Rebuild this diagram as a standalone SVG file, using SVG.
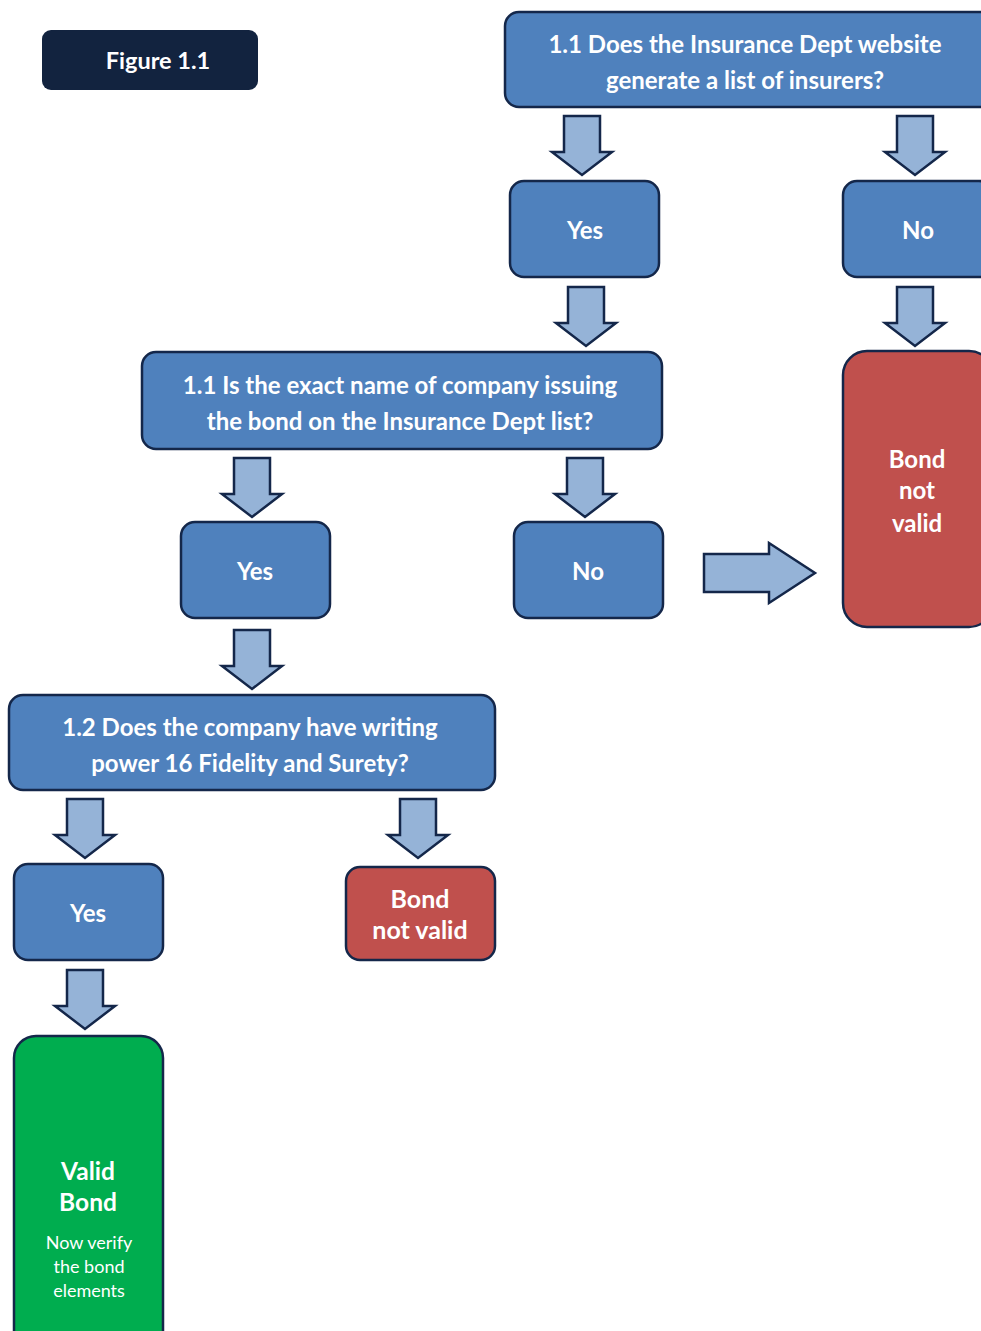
<svg xmlns="http://www.w3.org/2000/svg" width="981" height="1331" viewBox="0 0 981 1331">
<style>
.box{stroke:#14274a;stroke-width:2.5}
.blue{fill:#4f81bd}
.red{fill:#c0504d}
.green{fill:#00ad4f}
.arr{fill:#95b3d7;stroke:#14274a;stroke-width:2.5;stroke-linejoin:miter}
.t{font-family:Lato,"Liberation Sans",sans-serif;font-weight:bold;fill:#fff;text-anchor:middle;font-size:24px}
.s{font-family:Lato,"Liberation Sans",sans-serif;fill:#fff;text-anchor:middle;font-size:18px}
</style>
<defs>
<path id="down" d="M-18,0 H18 V36 H30 L0,59 L-30,36 H-18 Z"/>
</defs>
<g id="title">
<rect x="42" y="30" width="216" height="60" rx="9" fill="#12233f"/>
<text class="t" x="158" y="69" style="font-size:23.5px">Figure 1.1</text>
</g>
<g id="q1">
<rect class="box blue" x="505" y="12" width="500" height="95" rx="14"/>
<text class="t" x="745" y="53">1.1 Does the Insurance Dept website</text>
<text class="t" x="745" y="89">generate a list of insurers?</text>
</g>
<g id="yes1">
<rect class="box blue" x="510" y="181" width="149" height="96" rx="14"/>
<text class="t" x="585" y="239">Yes</text>
</g>
<g id="no1">
<rect class="box blue" x="843" y="181" width="150" height="96" rx="14"/>
<text class="t" x="918" y="239">No</text>
</g>
<g id="invalid1">
<rect class="box red" x="843" y="351" width="150" height="276" rx="24"/>
<text class="t" x="917" y="468">Bond</text>
<text class="t" x="917" y="499">not</text>
<text class="t" x="917" y="532">valid</text>
</g>
<g id="q2">
<rect class="box blue" x="142" y="352" width="520" height="97" rx="14"/>
<text class="t" x="400" y="394">1.1 Is the exact name of company issuing</text>
<text class="t" x="400" y="430">the bond on the Insurance Dept list?</text>
</g>
<g id="yes2">
<rect class="box blue" x="181" y="522" width="149" height="96" rx="14"/>
<text class="t" x="255" y="580">Yes</text>
</g>
<g id="no2">
<rect class="box blue" x="514" y="522" width="149" height="96" rx="14"/>
<text class="t" x="588" y="580">No</text>
</g>
<g id="q3">
<rect class="box blue" x="9" y="695" width="486" height="95" rx="14"/>
<text class="t" x="250" y="736">1.2 Does the company have writing</text>
<text class="t" x="250" y="772">power 16 Fidelity and Surety?</text>
</g>
<g id="yes3">
<rect class="box blue" x="14" y="864" width="149" height="96" rx="14"/>
<text class="t" x="88" y="922">Yes</text>
</g>
<g id="invalid2">
<rect class="box red" x="346" y="867" width="149" height="93" rx="14"/>
<text class="t" x="420" y="908" style="font-size:25px">Bond</text>
<text class="t" x="420" y="939" style="font-size:25px">not valid</text>
</g>
<g id="valid">
<rect class="box green" x="14" y="1036" width="149" height="320" rx="22"/>
<text class="t" x="88" y="1180" style="font-size:24.5px">Valid</text>
<text class="t" x="88" y="1211" style="font-size:24.5px">Bond</text>
<text class="s" x="89" y="1249">Now verify</text>
<text class="s" x="89" y="1273">the bond</text>
<text class="s" x="89" y="1297">elements</text>
</g>
<g id="connectors">
<use href="#down" class="arr" x="582" y="116"/>
<use href="#down" class="arr" x="915" y="116"/>
<use href="#down" class="arr" x="586" y="287"/>
<use href="#down" class="arr" x="915" y="287"/>
<use href="#down" class="arr" x="252" y="458"/>
<use href="#down" class="arr" x="585" y="458"/>
<use href="#down" class="arr" x="252" y="630"/>
<use href="#down" class="arr" x="85" y="799"/>
<use href="#down" class="arr" x="418" y="799"/>
<use href="#down" class="arr" x="85" y="970"/>
<path class="arr" d="M704,554 H769 V543 L815,573 L769,603 V592 H704 Z"/>
</g>
</svg>
